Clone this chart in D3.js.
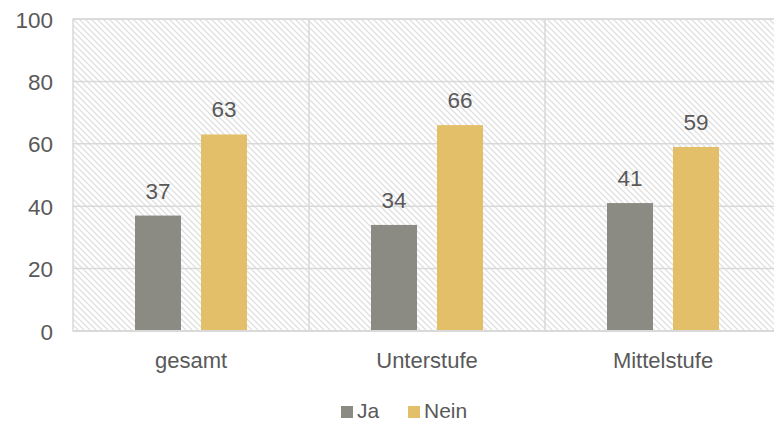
<!DOCTYPE html>
<html><head><meta charset="utf-8">
<script src="https://cdn.jsdelivr.net/npm/d3@7"></script>
<style>body{margin:0;background:#fff}svg{display:block}text{font-family:"Liberation Sans",Arial,sans-serif;fill:#595959}</style>
</head><body><svg id="c" width="774" height="425"></svg>
<script>
const categories = ["gesamt", "Unterstufe", "Mittelstufe"];
const seriesNames = ["Ja", "Nein"];
const ja = [37, 34, 41];
const nein = [63, 66, 59];
const yTicks = [0, 20, 40, 60, 80, 100];
const colors = ["#8b8b83", "#e4bf6a"];

(function(){
const svg = d3.select("#c");
const pLeft = 73, pRight = 781, pTop = 19, pBottom = 331;
const x = d3.scaleBand().domain(categories).range([pLeft, pRight]);
const y = d3.scaleLinear().domain([0, 100]).range([pBottom, pTop]);
const barW = 46, gap = 20;
const ff = '"Liberation Sans",Arial,sans-serif';

const defs = svg.append("defs");
const pat = defs.append("pattern").attr("id","hatch").attr("patternUnits","userSpaceOnUse")
  .attr("width",6).attr("height",6);
pat.append("rect").attr("width",6).attr("height",6).attr("fill","#fff");
pat.append("path").attr("d","M-1,-1 L7,7 M-7,-1 L1,7 M5,-1 L13,7").attr("stroke","#e0e0e0").attr("stroke-width",1.3);

svg.append("rect").attr("x",pLeft).attr("y",pTop).attr("width",pRight-pLeft).attr("height",pBottom-pTop)
  .attr("fill","url(#hatch)").attr("stroke","#d9d9d9").attr("stroke-width",1.5);

svg.append("g").selectAll("line").data(yTicks.filter(d=>d>0)).join("line")
  .attr("x1",pLeft).attr("x2",pRight).attr("y1",d=>y(d)).attr("y2",d=>y(d))
  .attr("stroke","#d9d9d9").attr("stroke-width",1.5);
svg.append("g").selectAll("line").data(categories.slice(1)).join("line")
  .attr("x1",d=>x(d)).attr("x2",d=>x(d)).attr("y1",pTop).attr("y2",pBottom)
  .attr("stroke","#d9d9d9").attr("stroke-width",1.5);

const yAxis = d3.axisLeft(y).tickValues(yTicks).tickSize(0).tickPadding(0);
const gy = svg.append("g").attr("transform",`translate(53,0)`).call(yAxis);
gy.select(".domain").remove();
gy.selectAll("text").attr("font-size",22.5).attr("fill","#595959").attr("dy","0.36em")
  .style("font-family",ff);

const data = [ja, nein];
data.forEach((vals, si) => {
  const off = si === 0 ? -(gap/2 + barW) : gap/2;
  const g = svg.append("g");
  g.selectAll("rect").data(categories).join("rect")
    .attr("x",(c)=>x(c)+x.bandwidth()/2+off)
    .attr("y",(c,i)=>y(vals[i]))
    .attr("width",barW)
    .attr("height",(c,i)=>y(0)-y(vals[i]))
    .attr("fill",colors[si]);
  g.selectAll("text").data(categories).join("text")
    .attr("x",(c)=>x(c)+x.bandwidth()/2+off+barW/2)
    .attr("y",(c,i)=>y(vals[i])-17)
    .attr("text-anchor","middle").attr("font-size",22.5)
    .text((c,i)=>vals[i]);
});

svg.append("line").attr("x1",pLeft).attr("x2",pRight).attr("y1",pBottom).attr("y2",pBottom)
  .attr("stroke","#d9d9d9").attr("stroke-width",2);

const xAxis = d3.axisBottom(x).tickSize(0).tickPadding(0);
const gx = svg.append("g").attr("transform",`translate(0,${pBottom})`).call(xAxis);
gx.select(".domain").remove();
gx.selectAll("text").attr("font-size",22).attr("fill","#595959").attr("y",37).attr("dy",0)
  .style("font-family",ff);

const legX = [341, 408];
const lg = svg.append("g");
seriesNames.forEach((n,i)=>{
  lg.append("rect").attr("x",legX[i]).attr("y",406).attr("width",12).attr("height",12).attr("fill",colors[i]);
  lg.append("text").attr("x",legX[i]+16).attr("y",418).attr("font-size",21).text(n);
});
})();
</script></body></html>
